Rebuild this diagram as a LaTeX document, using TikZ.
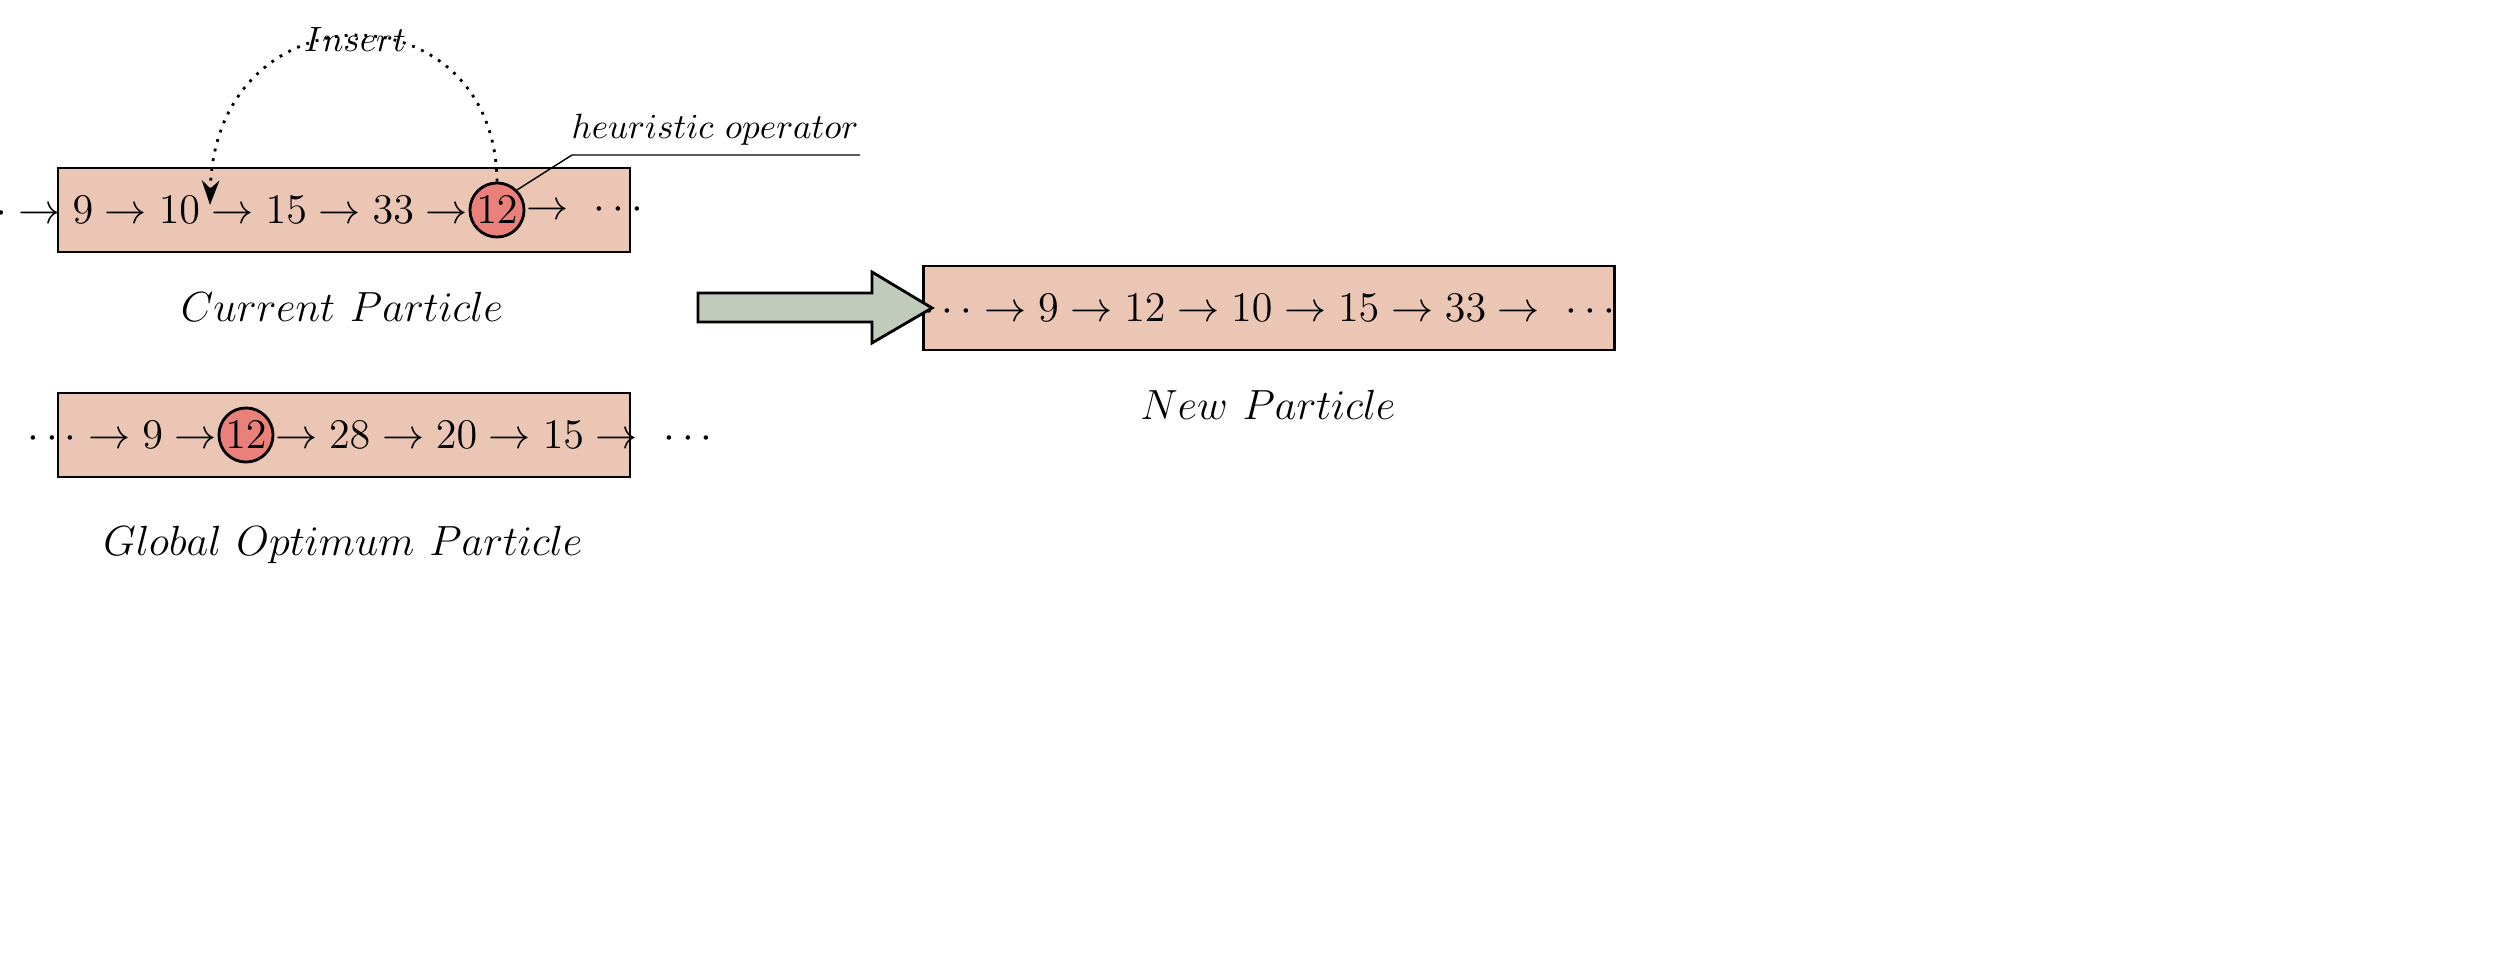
\documentclass[tikz,border=0pt]{standalone}
\usetikzlibrary{positioning,arrows.meta}
\definecolor{boxfill}{RGB}{235,198,180}
\definecolor{nodefill}{RGB}{233,128,122}
\definecolor{arrowfill}{RGB}{192,203,188}
\tikzset{
  particle/.style={draw, thick, fill=boxfill, minimum width=5.72cm, minimum height=0.84cm, inner sep=0pt},
  seq/.style={inner sep=0pt, font=\fontsize{12}{14}\selectfont},
  picked/.style={circle, draw, thick, fill=nodefill, inner sep=0.5pt, minimum size=0.5cm, font=\fontsize{12}{14}\selectfont},
  caption/.style={font=\fontsize{13}{16}\selectfont},
  note/.style={font=\fontsize{10}{12}\selectfont}
}
\begin{document}
\begin{tikzpicture}
	\useasboundingbox (0,0) rectangle (25.14,-9.68);
	% Boxes
	\node[particle] (cur) at (3.44,-2.10) {};
	\node[particle] (glob) at (3.44,-4.35) {};
	\node[particle, minimum width=5.74cm] (new) at (12.69,-3.08) {\fontsize{12}{14}\selectfont$\cdots\to9\to12\to10\to15\to33\to\ \cdots$};
	% Current particle sequence
	\node[picked] (cur12) at (4.97,-2.10) {$12$};
	\node[seq, left=0pt of cur12] (curL) {$\cdots\to9\to10\to15\to33\to$};
	\node[seq, right=0pt of cur12] (curR) {$\to\ \cdots$};
	% Global optimum sequence
	\node[picked] (glob12) at (2.46,-4.35) {$12$};
	\node[seq, left=0pt of glob12] (globL) {$\cdots\to9\to$};
	\node[seq, right=0pt of glob12] (globR) {$\to28\to20\to15\to\ \cdots$};
	% Labels
	\node[caption] (curlab) at (3.42,-3.07) {$Current\ Particle$};
	\node[caption] (globlab) at (3.43,-5.45) {$Global\ Optimum\ Particle$};
	\node[caption] (newlab) at (12.68,-4.05) {$New\ Particle$};
	\node[note] (ins) at (3.55,-0.40) {$Insert$};
	\node[note] (heur) at (7.15,-1.30) {$heuristic\ operator$};
	% Insert arc
	\coordinate (tgt) at (2.10,-2.05);
	\draw[thick, dotted, -{Stealth[length=7pt,width=5pt]}] (cur12.north) .. controls (4.95,0.15) and (2.15,0.15) .. (tgt);
	% Pointer line
	\coordinate (bend) at (5.72,-1.55);
	\coordinate (tail) at (8.60,-1.55);
	\draw[thin] (cur12.north east) -- (bend) -- (tail);
	% Big arrow
	\draw[thick, fill=arrowfill] (6.98,-2.93) -- (8.72,-2.93) -- (8.72,-2.72) -- (9.32,-3.08) -- (8.72,-3.43) -- (8.72,-3.22) -- (6.98,-3.22) -- cycle;
\end{tikzpicture}
\end{document}
